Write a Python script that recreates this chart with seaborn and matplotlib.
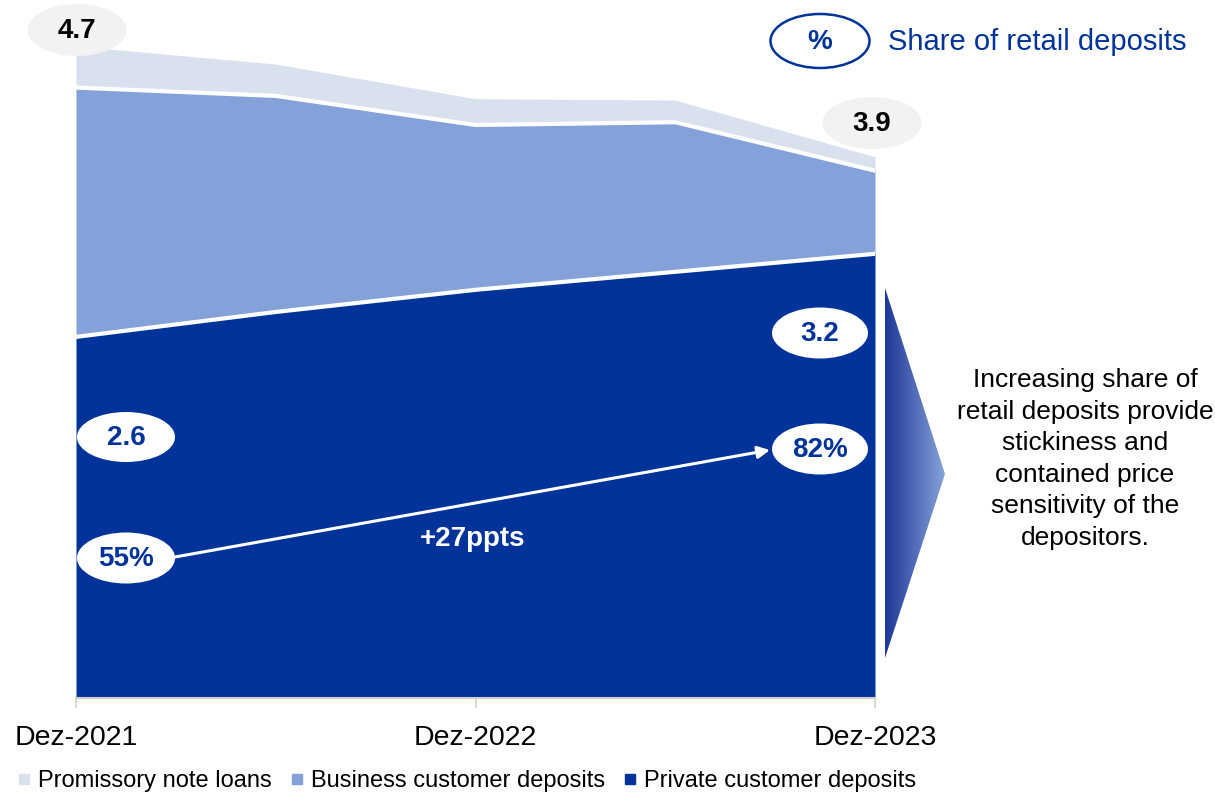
import numpy as np
import pandas as pd
import seaborn as sns
import matplotlib
matplotlib.use("Agg")
import matplotlib.pyplot as plt
from matplotlib.patches import Ellipse, Polygon
from matplotlib.lines import Line2D

# Deposit volumes per half-year (EUR bn)
periods = ["Dez-2021", "Jun-2022", "Dez-2022", "Jun-2023", "Dez-2023"]
tick_labels = ["Dez-2021", "Dez-2022", "Dez-2023"]
private_deposits = [2.6, 2.78, 2.94, 3.07, 3.2]
business_deposits = [1.80, 1.56, 1.19, 1.08, 0.60]
promissory_loans = [0.30, 0.23, 0.19, 0.16, 0.10]
series_names = ["Private customer deposits", "Business customer deposits", "Promissory note loans"]
note_text = ("Increasing share of\nretail deposits provide\nstickiness and\n"
             "contained price\nsensitivity of the\ndepositors.")

DARK = "#003399"
MID = "#84A1D9"
LIGHT = "#DAE1EE"
GREY = "#F2F2F2"

sns.set_theme(style="white")
plt.rcParams["font.family"] = ["Liberation Sans", "DejaVu Sans"]
plt.rcParams["text.color"] = "black"
plt.rcParams["xtick.color"] = "black"

df = pd.DataFrame({"period": periods, "private": private_deposits,
                   "business": business_deposits, "promissory": promissory_loans})
df["x"] = np.arange(len(df))
df["lvl1"] = df["private"]
df["lvl2"] = df["private"] + df["business"]
df["total"] = df["lvl2"] + df["promissory"]

W, H = 1215, 793
fig = plt.figure(figsize=(W / 100, H / 100), dpi=100)
ax = fig.add_axes([76 / W, (H - 697) / H, 799 / W, 692.5 / H])

ax.stackplot(df["x"], df["private"], df["business"], df["promissory"],
             colors=[DARK, MID, LIGHT], linewidth=0)
sns.lineplot(x=df["x"], y=df["lvl1"], color="white", lw=3, ax=ax)
sns.lineplot(x=df["x"], y=df["lvl2"], color="white", lw=3, ax=ax)

ax.set_xlim(0, len(df) - 1)
ax.set_ylim(0, 5.0)
ax.set_xlabel("")
ax.set_ylabel("")
ax.set_yticks([])
ax.set_xticks(list(df["x"][::2]))
ax.set_xticklabels(tick_labels)
ax.tick_params(axis="x", length=7, width=1.2, color="#D0D0D0", pad=12, direction="out",
               bottom=True, labelsize=20.5, labelcolor="black")
for s in ["left", "top", "right"]:
    ax.spines[s].set_visible(False)
ax.spines["bottom"].set_color("#D0D0D0")
ax.spines["bottom"].set_linewidth(1.5)
ax.spines["bottom"].set_position(("outward", 1))

# Legend
handles = [Line2D([], [], marker="s", linestyle="", markersize=7, color=c)
           for c in [LIGHT, MID, DARK]]
leg = fig.legend(handles, [series_names[2], series_names[1], series_names[0]],
                 loc="center left", bbox_to_anchor=(18 / W, 1 - 781 / H), ncol=3,
                 frameon=False, fontsize=17, handlelength=0.5, handletextpad=0.35,
                 columnspacing=0.8, borderaxespad=0, borderpad=0)
for t in leg.get_texts():
    t.set_color("black")

# Overlay in pixel coordinates for callouts
ov = fig.add_axes([0, 0, 1, 1], zorder=5)
ov.set_xlim(0, W)
ov.set_ylim(H, 0)
ov.axis("off")
ov.patch.set_alpha(0)


def bubble(cx, cy, text, face, tcolor, edge=None, w=99, h=52):
    ov.add_patch(Ellipse((cx, cy), w, h, facecolor=face,
                         edgecolor=edge if edge else "none", lw=1.8 if edge else 0))
    ov.text(cx, cy + 1, text, ha="center", va="center", fontsize=20,
            fontweight="bold", color=tcolor)


first, last = df.iloc[0], df.iloc[-1]
share_start = round(first["private"] / first["total"] * 100)
share_end = round(last["private"] / last["total"] * 100)

bubble(77, 30, f"{first['total']:.1f}", GREY, "black")
bubble(872, 123, f"{last['total']:.1f}", GREY, "black")
bubble(126, 437, f"{first['private']:.1f}", "white", DARK, w=98, h=50)
bubble(820, 333, f"{last['private']:.1f}", "white", DARK, w=96, h=51)
bubble(126, 558, f"{share_start}%", "white", DARK, w=98, h=51)
bubble(820, 449, f"{share_end}%", "white", DARK, w=96, h=51)

ov.annotate("", xy=(770, 450), xytext=(175, 557),
            arrowprops=dict(arrowstyle="-|>", color="white", lw=2.2,
                            mutation_scale=18, shrinkA=0, shrinkB=0))
ov.text(473, 539, f"+{share_end - share_start}ppts", ha="center", va="center",
        fontsize=20, fontweight="bold", color="white")

# Share legend at top right
ov.add_patch(Ellipse((820, 41), 99, 54, facecolor="white", edgecolor=DARK, lw=1.8))
ov.text(820, 42, "%", ha="center", va="center", fontsize=20, fontweight="bold", color=DARK)
ov.text(888, 42, "Share of retail deposits", ha="left", va="center", fontsize=21, color=DARK)

# Gradient chevron pointing to the note
tri = Polygon([(885, 288), (945, 474), (885, 658)], closed=True, facecolor="none",
              edgecolor="none")
ov.add_patch(tri)
grad = np.linspace(0, 1, 256).reshape(1, -1)
cmap = matplotlib.colors.LinearSegmentedColormap.from_list("chev", ["#1E3796", "#86A3DA"])
im = ov.imshow(grad, cmap=cmap, extent=[885, 945, 658, 288], aspect="auto",
               interpolation="bicubic")
im.set_clip_path(tri)
ov.set_xlim(0, W)
ov.set_ylim(H, 0)

ov.text(1085, 459, note_text, ha="center", va="center", fontsize=19,
        linespacing=1.4, color="black")

fig.savefig("out.png", dpi=100)
